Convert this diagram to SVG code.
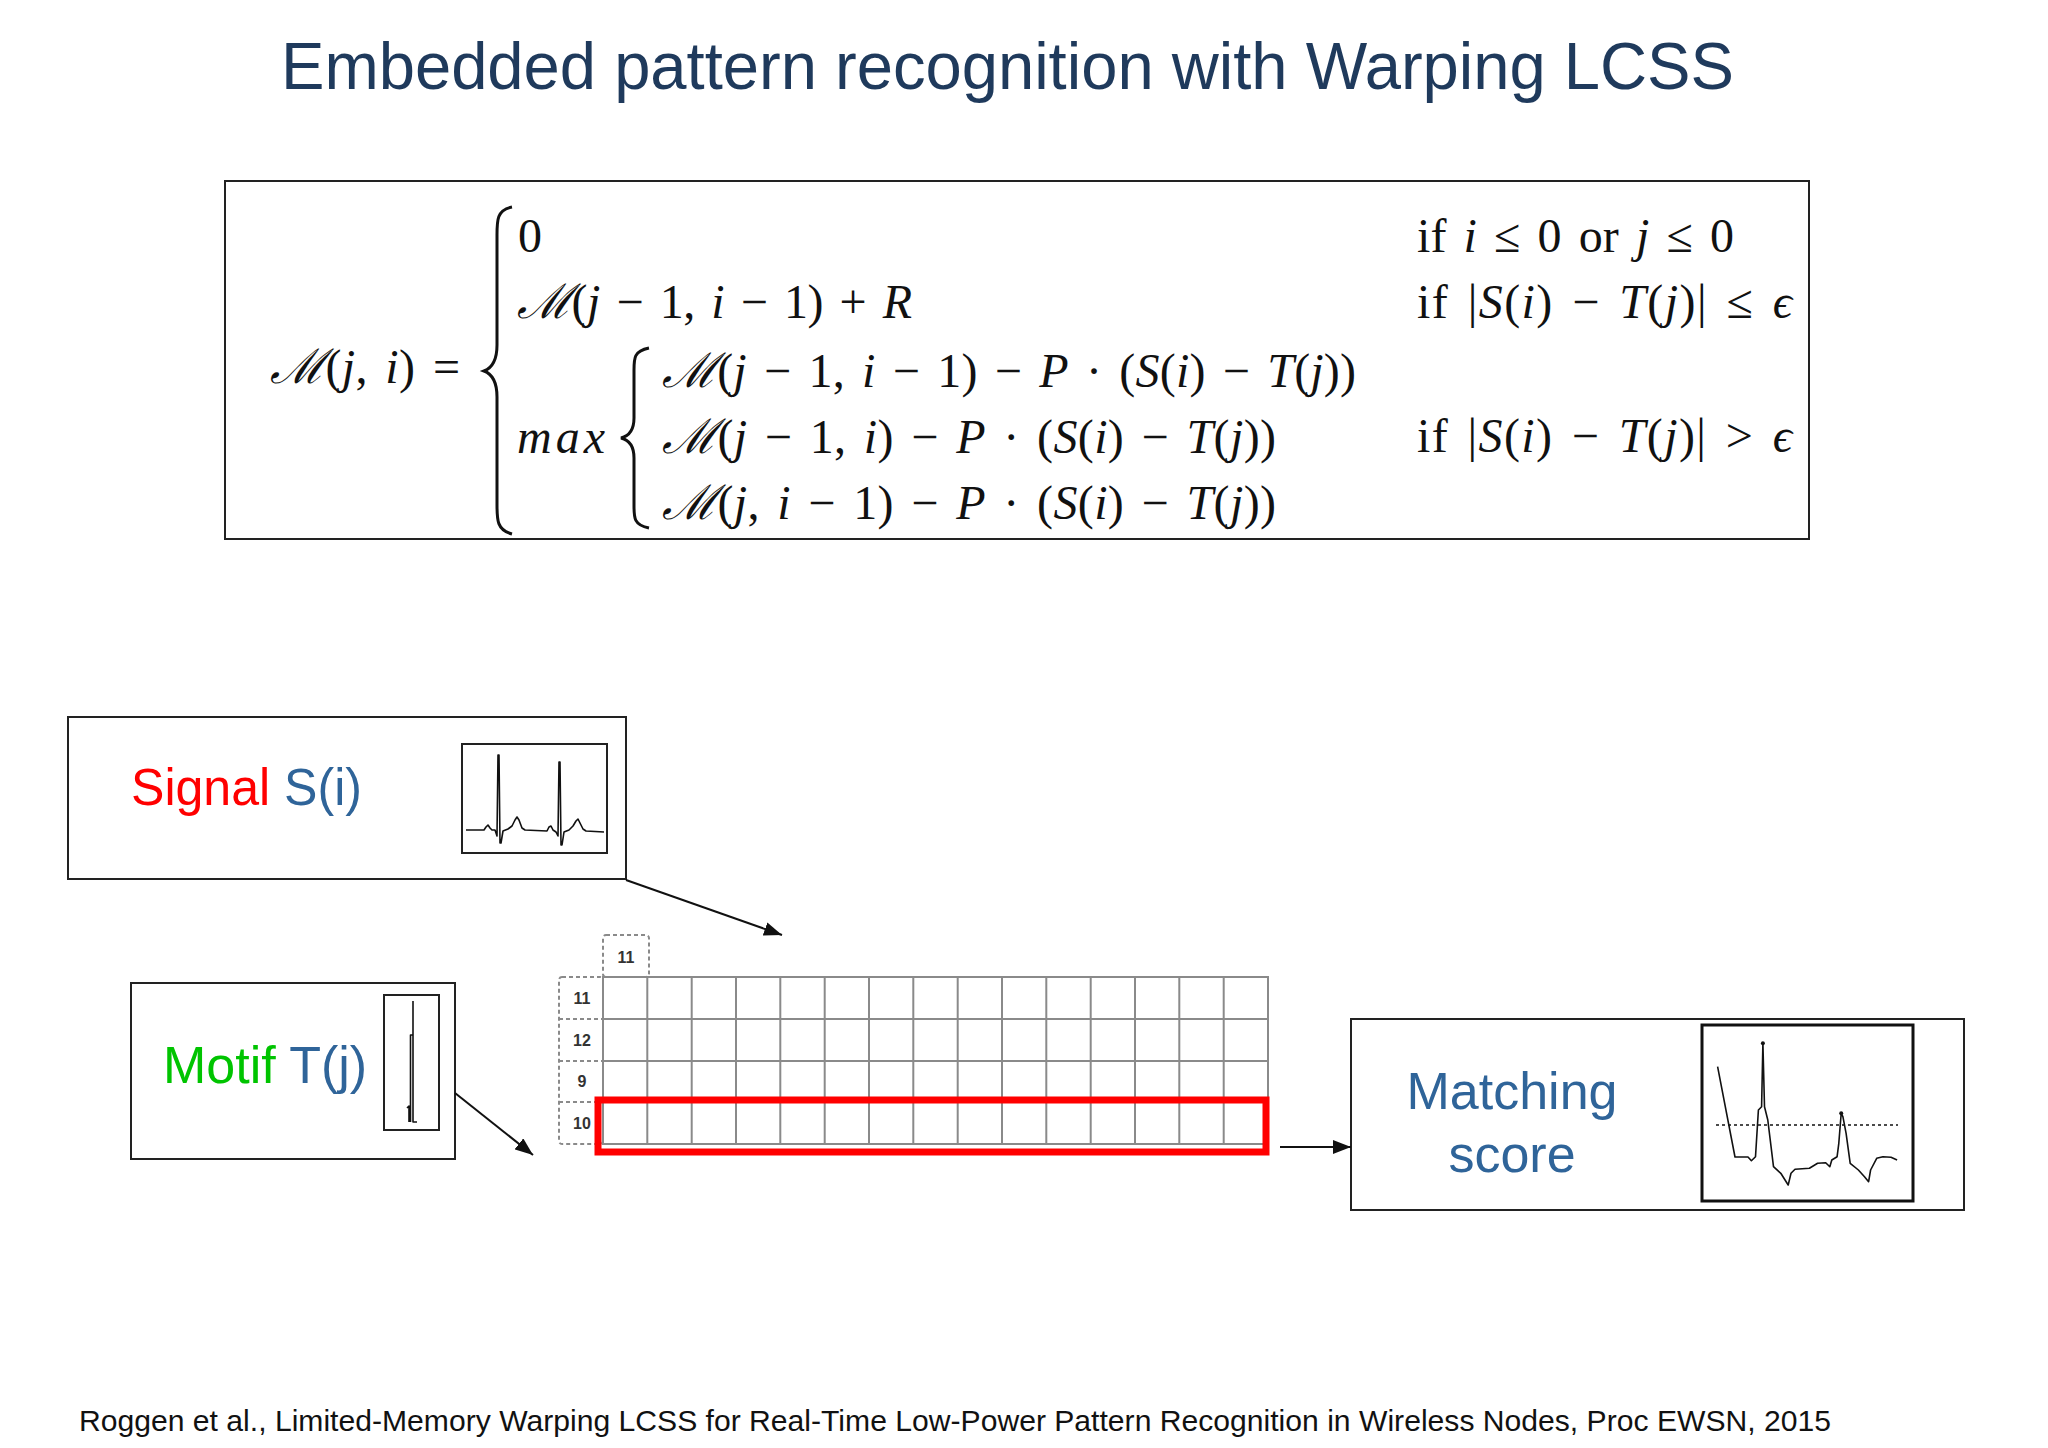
<svg xmlns="http://www.w3.org/2000/svg" width="2048" height="1448" viewBox="0 0 2048 1448">
<style>
.title{font-family:"Liberation Sans",Arial,sans-serif;font-size:66px;fill:#1f3a5c}
.math{font-family:"Liberation Serif","DejaVu Serif",serif;font-size:48px;fill:#111;word-spacing:5px}
.it{font-style:italic}
.box{fill:#fff;stroke:#222;stroke-width:2}
.inner{fill:#fff;stroke:#222;stroke-width:2}
.lbl{font-family:"Liberation Sans",Arial,sans-serif;font-size:52px}
.blue{fill:#2f6499}
.red{fill:#ff0000}
.green{fill:#00c400}
.grid{fill:none;stroke:#8a8a8a;stroke-width:2}
.dash{fill:none;stroke:#8a8a8a;stroke-width:2;stroke-dasharray:4 3}
.num{font-family:"Liberation Sans",Arial,sans-serif;font-size:16px;font-weight:bold;fill:#333;text-anchor:middle}
.wave{fill:none;stroke:#111;stroke-width:1.6;stroke-linejoin:round}
.conn{fill:none;stroke:#111;stroke-width:2}
.foot{font-family:"Liberation Sans",Arial,sans-serif;font-size:29px;fill:#111}
</style>
<defs>
<marker id="arr" markerUnits="userSpaceOnUse" markerWidth="18" markerHeight="14" refX="18" refY="7" orient="auto">
<path d="M0,0 L18,7 L0,14 z" fill="#111"/>
</marker>
</defs>
<rect width="2048" height="1448" fill="#ffffff"/>
<text class="title" x="281" y="89" textLength="1453" lengthAdjust="spacingAndGlyphs">Embedded pattern recognition with Warping LCSS</text>

<g id="formula">
<rect x="225" y="181" width="1584" height="358" fill="#fff" stroke="#222" stroke-width="2"/>
<text class="math" x="270" y="383" textLength="190" lengthAdjust="spacing"><tspan class="it">ℳ</tspan>(<tspan class="it">j</tspan>, <tspan class="it">i</tspan>) =</text>
<path d="M512,207 C497,210 497,220 497,235 L497,345 C497,360 492,368 484,371 C492,374 497,382 497,397 L497,505 C497,520 497,530 512,534" fill="none" stroke="#111" stroke-width="3"/>
<text class="math" x="518" y="252">0</text>
<text class="math" x="517" y="318" textLength="395" lengthAdjust="spacing"><tspan class="it">ℳ</tspan>(<tspan class="it">j</tspan> − 1, <tspan class="it">i</tspan> − 1) + <tspan class="it">R</tspan></text>
<text class="math it" x="517" y="453" textLength="88" lengthAdjust="spacing">max</text>
<path d="M649,348 C634,351 634,358 634,370 L634,418 C634,430 629,436 621,438 C629,440 634,446 634,458 L634,506 C634,518 634,525 649,528" fill="none" stroke="#111" stroke-width="3"/>
<text class="math" x="662" y="387" textLength="694" lengthAdjust="spacing"><tspan class="it">ℳ</tspan>(<tspan class="it">j</tspan> − 1, <tspan class="it">i</tspan> − 1) − <tspan class="it">P</tspan> · (<tspan class="it">S</tspan>(<tspan class="it">i</tspan>) − <tspan class="it">T</tspan>(<tspan class="it">j</tspan>))</text>
<text class="math" x="662" y="453" textLength="614" lengthAdjust="spacing"><tspan class="it">ℳ</tspan>(<tspan class="it">j</tspan> − 1, <tspan class="it">i</tspan>) − <tspan class="it">P</tspan> · (<tspan class="it">S</tspan>(<tspan class="it">i</tspan>) − <tspan class="it">T</tspan>(<tspan class="it">j</tspan>))</text>
<text class="math" x="662" y="519" textLength="614" lengthAdjust="spacing"><tspan class="it">ℳ</tspan>(<tspan class="it">j</tspan>, <tspan class="it">i</tspan> − 1) − <tspan class="it">P</tspan> · (<tspan class="it">S</tspan>(<tspan class="it">i</tspan>) − <tspan class="it">T</tspan>(<tspan class="it">j</tspan>))</text>
<text class="math" x="1417" y="252" textLength="317" lengthAdjust="spacing">if <tspan class="it">i</tspan> ≤ 0 or <tspan class="it">j</tspan> ≤ 0</text>
<text class="math" x="1417" y="318" textLength="375" lengthAdjust="spacing">if |<tspan class="it">S</tspan>(<tspan class="it">i</tspan>) − <tspan class="it">T</tspan>(<tspan class="it">j</tspan>)| ≤ <tspan class="it">ϵ</tspan></text>
<text class="math" x="1417" y="452" textLength="375" lengthAdjust="spacing">if |<tspan class="it">S</tspan>(<tspan class="it">i</tspan>) − <tspan class="it">T</tspan>(<tspan class="it">j</tspan>)| &gt; <tspan class="it">ϵ</tspan></text>
</g>

<g id="signal">
<rect class="box" x="68" y="717" width="558" height="162"/>
<text class="lbl" x="131" y="805" font-size="50" textLength="231" lengthAdjust="spacingAndGlyphs"><tspan class="red">Signal</tspan><tspan class="blue"> S(i)</tspan></text>
<rect class="inner" x="462" y="744" width="145" height="109"/>
<path class="wave" d="M466,830 L484,830 L486,827 L488,825 L490,828 L492,830 L495,830 L497,836 L498,755 L499,755 L500,843 L501,843 L503,831 L508,829 L512,826 L515,820 L517,817 L519,820 L522,828 L525,830 L547,831 L549,827 L551,826 L553,830 L556,832 L558,836 L559,762 L560,762 L561,845 L562,845 L564,832 L569,830 L573,826 L576,821 L578,819 L580,823 L583,829 L586,831 L604,832"/>
</g>

<g id="motif">
<rect class="box" x="131" y="983" width="324" height="176"/>
<text class="lbl" x="163" y="1083"><tspan class="green">Motif</tspan><tspan class="blue"> T(j)</tspan></text>
<rect class="inner" x="384" y="995" width="55" height="135"/>
<path class="wave" d="M413,1001 L413,1122 L417,1122" stroke-width="2.4"/>
<path class="wave" d="M413,1035 L410.5,1035 L410.5,1122 M407,1108 L409,1106 L409,1122" stroke-width="1.2"/>
</g>

<g id="matrix">
<rect class="dash" x="603" y="935" width="46" height="42" rx="3"/>
<text class="num" x="626" y="963">11</text>
<rect class="dash" x="559" y="977" width="44" height="167" rx="3"/>
<line class="dash" x1="559" y1="1019" x2="603" y2="1019"/>
<line class="dash" x1="559" y1="1061" x2="603" y2="1061"/>
<line class="dash" x1="559" y1="1102" x2="603" y2="1102"/>
<text class="num" x="582" y="1004">11</text>
<text class="num" x="582" y="1046">12</text>
<text class="num" x="582" y="1087">9</text>
<text class="num" x="582" y="1129">10</text>
<rect class="grid" x="603" y="977" width="665" height="167"/>
<path class="grid" d="M603,1019 H1268 M603,1061 H1268 M603,1102 H1268 M647.3,977 V1144 M691.7,977 V1144 M736,977 V1144 M780.3,977 V1144 M824.7,977 V1144 M869,977 V1144 M913.3,977 V1144 M957.7,977 V1144 M1002,977 V1144 M1046.3,977 V1144 M1090.7,977 V1144 M1135,977 V1144 M1179.3,977 V1144 M1223.7,977 V1144"/>
<rect x="598" y="1100" width="668" height="52" fill="none" stroke="#ff0000" stroke-width="7"/>
</g>

<g id="matching">
<rect class="box" x="1351" y="1019" width="613" height="191"/>
<text class="lbl blue" x="1512" y="1109" text-anchor="middle">Matching</text>
<text class="lbl blue" x="1512" y="1172" text-anchor="middle">score</text>
<rect x="1702" y="1025" width="211" height="176" fill="#fff" stroke="#111" stroke-width="3"/>
<line x1="1716" y1="1125" x2="1898" y2="1125" stroke="#111" stroke-width="1.5" stroke-dasharray="3 3"/>
<path class="wave" d="M1717.6,1066.7 L1735,1157 L1748,1157 L1751.4,1160.7 L1755.5,1156.7 L1758.4,1110 L1761.6,1106.7 L1762.9,1043.3 L1764.5,1106.7 L1767.8,1120 L1773.5,1166.7 L1780.8,1173.3 L1788.2,1185 L1791,1173.3 L1795,1169.3 L1809.4,1168.3 L1817.6,1163.3 L1825.7,1162.7 L1829.8,1166.7 L1831.8,1160 L1837.1,1156.7 L1838.8,1143.3 L1841.2,1113.3 L1842.9,1116.7 L1846.1,1133.3 L1850.2,1163.3 L1858.4,1170 L1864.5,1176.7 L1868.6,1181.7 L1870.6,1170 L1876.7,1158.3 L1882.9,1156.7 L1891,1157.3 L1897.1,1160" stroke-width="2"/>
<circle cx="1762.9" cy="1043.3" r="2" fill="#111"/>
<circle cx="1841.2" cy="1113.3" r="2" fill="#111"/>
</g>

<g id="connectors">
<line class="conn" x1="626" y1="880" x2="782" y2="935" marker-end="url(#arr)"/>
<line class="conn" x1="455" y1="1093" x2="533" y2="1155" marker-end="url(#arr)"/>
<line class="conn" x1="1280" y1="1147" x2="1351" y2="1147" marker-end="url(#arr)"/>
</g>

<text class="foot" x="79" y="1431" textLength="1752" lengthAdjust="spacingAndGlyphs">Roggen et al., Limited-Memory Warping LCSS for Real-Time Low-Power Pattern Recognition in Wireless Nodes, Proc EWSN, 2015</text>
</svg>
